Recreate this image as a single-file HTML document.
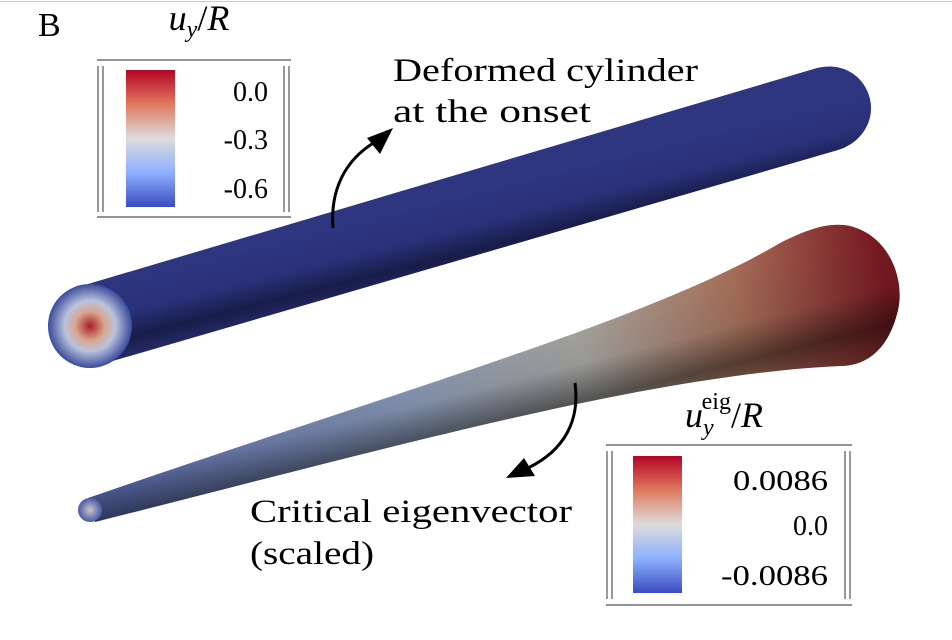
<!DOCTYPE html>
<html><head><meta charset="utf-8"><style>
body{margin:0;background:#fff;}
svg{display:block;}
text{font-family:"Liberation Serif","DejaVu Serif",serif;}
</style></head><body>
<svg width="952" height="640" viewBox="0 0 952 640">
<defs>
<linearGradient id="cb1" x1="0" y1="0" x2="0" y2="1">
<stop offset="0" stop-color="#b40426"/><stop offset="0.25" stop-color="#e07a5f"/><stop offset="0.5" stop-color="#dddcdc"/><stop offset="0.75" stop-color="#8db0fe"/><stop offset="1" stop-color="#3b4cc0"/></linearGradient>
<linearGradient id="cyl1" gradientUnits="userSpaceOnUse" x1="80" y1="286" x2="100" y2="366">
<stop offset="0" stop-color="#2e3680"/><stop offset="0.45" stop-color="#2a3178"/><stop offset="0.75" stop-color="#181c48"/><stop offset="1" stop-color="#262c6c"/></linearGradient>
<linearGradient id="cyl2" gradientUnits="userSpaceOnUse" x1="90" y1="510" x2="890" y2="290">
<stop offset="0" stop-color="#5868ad"/><stop offset="0.4" stop-color="#8a9ab8"/><stop offset="0.62" stop-color="#a9a9a4"/><stop offset="0.82" stop-color="#a8705a"/><stop offset="1" stop-color="#7a1a22"/></linearGradient>
<linearGradient id="shade2" gradientUnits="userSpaceOnUse" x1="700" y1="270" x2="730" y2="390">
<stop offset="0" stop-color="#000" stop-opacity="0"/><stop offset="0.5" stop-color="#000" stop-opacity="0.1"/><stop offset="0.8" stop-color="#000" stop-opacity="0.5"/><stop offset="1" stop-color="#000" stop-opacity="0.3"/></linearGradient>
<radialGradient id="cap1" cx="0.5" cy="0.5" r="0.5">
<stop offset="0" stop-color="#a81f25"/><stop offset="0.35" stop-color="#d9a58e"/><stop offset="0.6" stop-color="#b9c3dc"/><stop offset="1" stop-color="#3b4b9c"/></radialGradient>
<radialGradient id="cap2" cx="0.5" cy="0.5" r="0.5">
<stop offset="0" stop-color="#c9c6c4"/><stop offset="1" stop-color="#4a5aa8"/></radialGradient>
</defs>
<line x1="0" y1="1.5" x2="952" y2="1.5" stroke="#ccc" stroke-width="1"/>
<text x="38" y="36" font-size="34">B</text>
<!-- cylinder 1 -->
<path d="M88,284 L817,68 C850,60 872,85 871,110 C870,130 855,145 838,150 L92,367 Z" fill="url(#cyl1)"/>
<circle cx="90" cy="326" r="42" fill="url(#cap1)"/>
<!-- cylinder 2 -->
<path id="c2" d="M88,498 C400,390 650,320 780,243 C810,228 830,222 850,226 C890,236 905,280 898,310 C890,345 870,366 840,366 C650,375 400,445 95,522 Z" fill="url(#cyl2)"/>
<path d="M88,498 C400,390 650,320 780,243 C810,228 830,222 850,226 C890,236 905,280 898,310 C890,345 870,366 840,366 C650,375 400,445 95,522 Z" fill="url(#shade2)"/>
<circle cx="90" cy="510" r="12" fill="url(#cap2)"/>
<!-- colorbar 1 -->
<text x="199" y="30" font-size="36" font-style="italic" text-anchor="middle">u<tspan font-size="24" dy="7">y</tspan><tspan dy="-7" font-style="normal">/</tspan>R</text>
<line x1="97" y1="60" x2="291" y2="60" stroke="#555" stroke-width="1.2"/>
<line x1="97" y1="217" x2="291" y2="217" stroke="#555" stroke-width="1.2"/>
<g stroke="#555" stroke-width="1.2"><line x1="98" y1="66" x2="98" y2="212"/><line x1="103" y1="66" x2="103" y2="212"/><line x1="284" y1="66" x2="284" y2="212"/><line x1="289" y1="66" x2="289" y2="212"/></g>
<rect x="126" y="70" width="49" height="137" fill="url(#cb1)"/>
<g font-size="28" text-anchor="end"><text x="268" y="101">0.0</text><text x="268" y="149">-0.3</text><text x="268" y="198">-0.6</text></g>
<!-- colorbar 2 -->
<text x="724" y="427" font-size="36" font-style="italic" text-anchor="middle">u<tspan font-size="24" dy="8">y</tspan><tspan font-size="24" font-style="normal" dx="-12" dy="-26">eig</tspan><tspan dy="18" font-style="normal">/</tspan>R</text>
<line x1="606" y1="445" x2="852" y2="445" stroke="#555" stroke-width="1.2"/>
<line x1="606" y1="605" x2="852" y2="605" stroke="#555" stroke-width="1.2"/>
<g stroke="#555" stroke-width="1.2"><line x1="607" y1="451" x2="607" y2="599"/><line x1="612" y1="451" x2="612" y2="599"/><line x1="845" y1="451" x2="845" y2="599"/><line x1="850" y1="451" x2="850" y2="599"/></g>
<rect x="633" y="456" width="49" height="137" fill="url(#cb1)"/>
<g font-size="28" text-anchor="end"><text x="828" y="490" textLength="95" lengthAdjust="spacingAndGlyphs">0.0086</text><text x="828" y="535">0.0</text><text x="828" y="585" textLength="107" lengthAdjust="spacingAndGlyphs">-0.0086</text></g>
<!-- labels -->
<text x="393" y="81" font-size="33" textLength="305" lengthAdjust="spacingAndGlyphs">Deformed cylinder</text>
<text x="393" y="122" font-size="33" textLength="198" lengthAdjust="spacingAndGlyphs">at the onset</text>
<text x="250" y="522" font-size="33" textLength="322" lengthAdjust="spacingAndGlyphs">Critical eigenvector</text>
<text x="250" y="564" font-size="33" textLength="124" lengthAdjust="spacingAndGlyphs">(scaled)</text>
<!-- arrows -->
<path d="M333,228 C330,190 345,160 375,142" fill="none" stroke="#000" stroke-width="3"/>
<polygon points="393,128 367,138 380,154" fill="#000"/>
<path d="M575,383 C580,420 565,450 528,468" fill="none" stroke="#000" stroke-width="3"/>
<polygon points="506,478 524,458 535,476" fill="#000"/>
</svg>
</body></html>
